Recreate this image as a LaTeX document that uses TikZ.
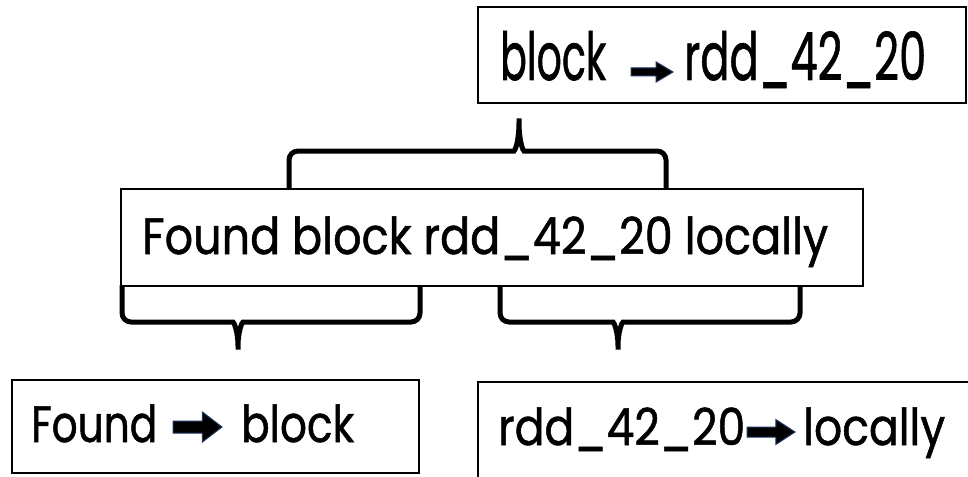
\documentclass[tikz,border=0pt]{standalone}
\usepackage{fontspec}
\setmainfont{Poppins}[FakeStretch=0.86, FakeBold=1]
\definecolor{arrowedge}{HTML}{203864}
\tikzset{
  box/.style={draw=black, line width=1.6pt, fill=white, inner sep=0pt},
  txt/.style={inner sep=0pt, anchor=base west, font=\fontsize{51}{58}\selectfont},
  brace/.style={line width=5pt, line cap=round, rounded corners=9pt},
  fatarrow/.style={fill=black, draw=arrowedge, line width=1pt, line join=miter},
}
% word set to a given width (second argument scales its height)
\newcommand\wordw[3]{\resizebox{#1pt}{#2\height}{#3}}
% block arrow: left x, centre y, width, height
\newcommand\blockarrow[4]{%
  \draw[fatarrow] (#1,#2-0.2*#4) -- ++(0.6*#3,0) -- ++(0,-0.3*#4)
    -- (#1+#3,#2) -- (#1+0.6*#3,#2+0.5*#4) -- ++(0,-0.3*#4)
    -- (#1,#2+0.2*#4) -- cycle;}
\begin{document}
\begin{tikzpicture}[x=1pt, y=-1pt]
\useasboundingbox (0,0) rectangle (968,476);

% braces
\draw[brace] (289,189) -- (289,151) -- (505,151)
  .. controls (515,151) and (519,141) .. (519,113)
  .. controls (519,141) and (523,151) .. (533,151)
  -- (666,151) -- (666,189);
\draw[brace] (122,286) -- (122,322) -- (224,322)
  .. controls (234,322) and (238,332) .. (238,355)
  .. controls (238,332) and (242,322) .. (252,322)
  -- (420,322) -- (420,286);
\draw[brace] (500,286) -- (500,322) -- (604,322)
  .. controls (614,322) and (618,332) .. (618,355)
  .. controls (618,332) and (622,322) .. (632,322)
  -- (800,322) -- (800,286);

% boxes
\node[box, minimum width=488pt, minimum height=96pt] (top) at (722,55) {};
\node[box, minimum width=742pt, minimum height=97pt] (mid) at (492,237.5) {};
\node[box, minimum width=407pt, minimum height=93pt] (bl) at (215.5,426.5) {};
\node[box, minimum width=522pt, minimum height=118pt] (br) at (739,441) {};

% top box text
\node[txt] (t1) at (500,80) {\wordw{106}{1.3}{block}};
\blockarrow{631}{72}{42}{20}
\node[txt] (t2) at (684,80) {\wordw{242}{1.3}{rdd\_42\_20}};

% middle box text
\node[txt] (m1) at (142,254) {\wordw{686}{1}{Found block rdd\_42\_20 locally}};

% bottom-left box text
\node[txt] (l1) at (31,442) {\wordw{126}{1}{Found}};
\blockarrow{173}{427}{49}{30}
\node[txt] (l2) at (241,442) {\wordw{113}{1}{block}};

% bottom-right box text
\node[txt] (r1) at (498,445) {\wordw{247}{1}{rdd\_42\_20}};
\blockarrow{747}{432}{48}{25}
\node[txt] (r2) at (803,445) {\wordw{142}{1}{locally}};
\end{tikzpicture}
\end{document}
